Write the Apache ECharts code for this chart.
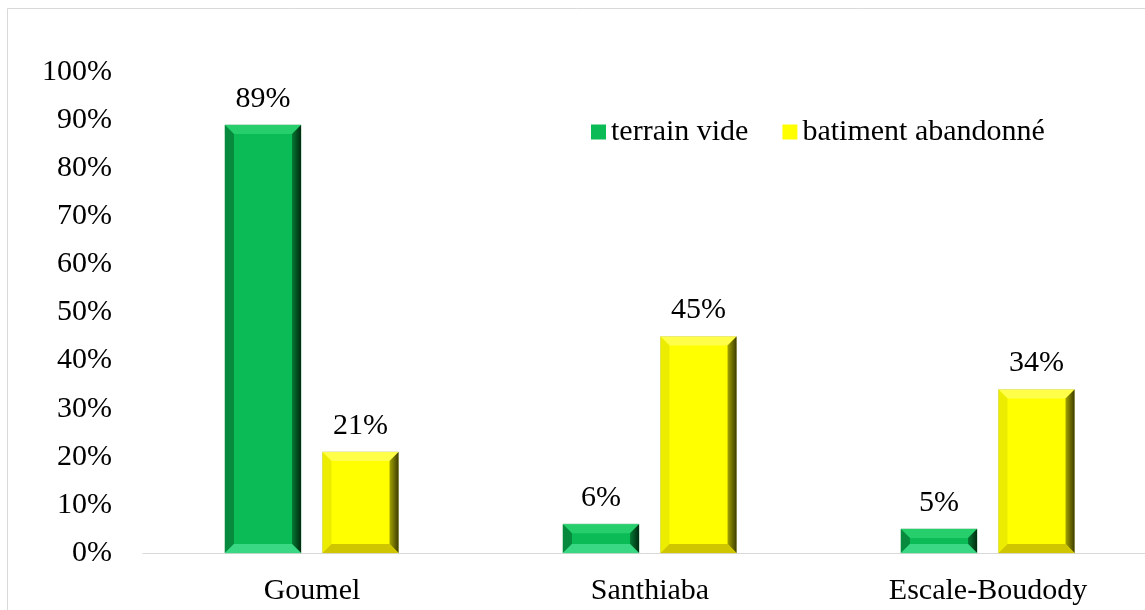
<!DOCTYPE html>
<html>
<head>
<meta charset="utf-8">
<script src="https://cdn.jsdelivr.net/npm/echarts@6/dist/echarts.min.js"></script>
<style>
  html, body { margin: 0; padding: 0; background: #fff; }
  #chart { width: 1145px; height: 610px; }
</style>
</head>
<body>
<div id="chart"></div>
<script>
  var categories = ['Goumel', 'Santhiaba', 'Escale-Boudody'];
  var terrainVide = [89, 6, 5];
  var batimentAbandonne = [21, 45, 34];
  var seriesNames = ['terrain vide', 'batiment abandonné'];

  var FONT = '"Liberation Serif", "Times New Roman", serif';

  // couleurs du biseau : face, haut, gauche, droite (int/ext), bas
  var greenBevel = { face: '#0bbb55', top: '#26cf6c', left: '#078a3d', rightIn: '#047a34', rightOut: '#012a10', bottom: '#3ad885', edge: '#9fcfae' };
  var yellowBevel = { face: '#ffff00', top: '#ffff4a', left: '#ecec00', rightIn: '#a3a300', rightOut: '#3c3c00', bottom: '#cfc600', edge: '#d8d8a0' };

  function bevelBar(offset, c) {
    return function (params, api) {
      var cat = api.value(0), val = api.value(1);
      var base = api.coord([cat, 0]);
      var top = api.coord([cat, val]);
      var band = api.size([1, 0])[0];
      var w = band * 0.225;
      var cx = base[0] + offset * band;
      var x0 = cx - w / 2, x1 = cx + w / 2, y0 = top[1], y1 = base[1];
      var b = Math.min(9, (y1 - y0) / 2.6, w / 4);
      return {
        type: 'group',
        children: [
          { type: 'rect', shape: { x: x0, y: y0, width: w, height: y1 - y0 }, style: { fill: c.face, stroke: c.edge, lineWidth: 1 } },
          { type: 'polygon', shape: { points: [[x0, y0], [x1, y0], [x1 - b, y0 + b], [x0 + b, y0 + b]] }, style: { fill: c.top } },
          { type: 'polygon', shape: { points: [[x0, y0], [x0 + b, y0 + b], [x0 + b, y1 - b], [x0, y1]] }, style: { fill: c.left } },
          { type: 'polygon', shape: { points: [[x1, y0], [x1, y1], [x1 - b, y1 - b], [x1 - b, y0 + b]] },
            style: { fill: new echarts.graphic.LinearGradient(0, 0, 1, 0, [{ offset: 0, color: c.rightIn }, { offset: 1, color: c.rightOut }]) } },
          { type: 'polygon', shape: { points: [[x0, y1], [x1, y1], [x1 - b, y1 - b], [x0 + b, y1 - b]] }, style: { fill: c.bottom } },
          { type: 'text', style: { text: val + '%', x: cx, y: y0 - 11, align: 'center', verticalAlign: 'bottom', fill: '#000', font: '30px ' + FONT } }
        ]
      };
    };
  }

  function toData(arr) {
    return arr.map(function (v, i) { return [i, v]; });
  }

  var myChart = echarts.init(document.getElementById('chart'));
  var option = {
    animation: false,
    backgroundColor: '#fff',
    textStyle: { fontFamily: FONT },
    graphic: [{
      type: 'rect', silent: true,
      shape: { x: 7.5, y: 8.5, width: 1300, height: 800 },
      style: { fill: 'none', stroke: '#d9d9d9', lineWidth: 1 }
    }],
    legend: {
      left: 586, top: 112,
      itemWidth: 15, itemHeight: 15, itemGap: 34,
      textStyle: { fontSize: 30, color: '#000', fontFamily: FONT },
      data: [
        { name: seriesNames[0], icon: 'rect', itemStyle: { color: greenBevel.face } },
        { name: seriesNames[1], icon: 'rect', itemStyle: { color: yellowBevel.face } }
      ]
    },
    grid: { left: 143, top: 72, bottom: 57, width: 1014, outerBoundsMode: 'none', containLabel: false },
    xAxis: {
      type: 'category',
      data: categories,
      axisLine: { lineStyle: { color: '#d9d9d9', width: 1 } },
      axisTick: { show: false },
      axisLabel: { fontSize: 30, color: '#000', margin: 23, fontFamily: FONT }
    },
    yAxis: {
      type: 'value',
      min: 0, max: 100, interval: 10,
      axisLine: { show: false },
      axisTick: { show: false },
      splitLine: { show: false },
      axisLabel: { fontSize: 30, color: '#000', margin: 31, formatter: '{value}%', fontFamily: FONT }
    },
    series: [
      {
        name: seriesNames[0], type: 'custom',
        itemStyle: { color: greenBevel.face },
        encode: { x: 0, y: 1 },
        renderItem: bevelBar(-0.145, greenBevel),
        data: toData(terrainVide)
      },
      {
        name: seriesNames[1], type: 'custom',
        itemStyle: { color: yellowBevel.face },
        encode: { x: 0, y: 1 },
        renderItem: bevelBar(0.1435, yellowBevel),
        data: toData(batimentAbandonne)
      }
    ]
  };
  myChart.setOption(option);
</script>
</body>
</html>
